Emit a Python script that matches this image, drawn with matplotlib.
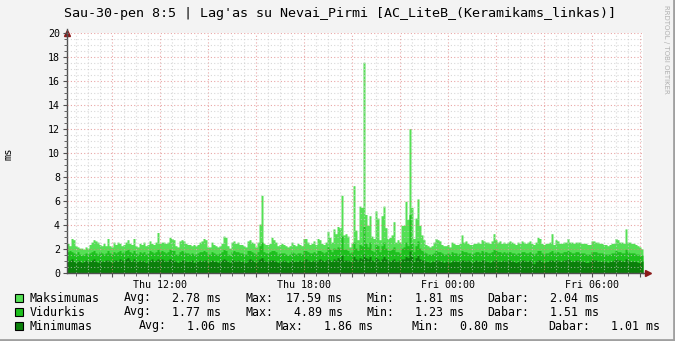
import numpy as np
import pandas as pd
import matplotlib
matplotlib.use('Agg')
import matplotlib.pyplot as plt
import matplotlib.dates as mdates
from matplotlib.ticker import MultipleLocator, FuncFormatter
from matplotlib.patches import Rectangle

# Laiko ašis: 5 min žingsnis, 24 val. (Thu 08:07:30 .. Fri 08:07:30)
start_time = '2015-01-29 08:07:30'
n_samples = 288

# Maksimumas (ms), po 24 reikšmes (2 val.) eilutėje
max_ms = [
    2.5, 2.3, 2.9, 2.8, 2.3, 2.2, 2.1, 2.1, 2.0, 2.2, 2.1, 2.4, 2.6, 2.8, 2.7, 2.6, 2.4, 2.3, 2.5, 2.3, 2.9, 2.3, 2.2, 2.6,
    2.4, 2.6, 2.5, 2.3, 2.4, 2.6, 2.8, 2.5, 2.4, 2.9, 2.3, 2.2, 2.5, 2.4, 2.6, 2.3, 2.4, 2.7, 2.5, 2.4, 2.6, 3.4, 2.5, 2.6,
    2.6, 2.5, 2.6, 3.0, 2.9, 2.8, 2.3, 2.2, 2.7, 2.8, 2.7, 2.5, 2.4, 2.4, 2.3, 2.4, 2.3, 2.4, 2.6, 2.7, 2.9, 2.8, 2.2, 2.2,
    2.6, 2.4, 2.3, 2.2, 2.3, 2.5, 3.1, 3.0, 2.3, 2.1, 2.6, 2.7, 2.5, 2.6, 2.4, 2.4, 2.3, 2.2, 2.7, 2.8, 2.6, 2.5, 2.2, 2.6,
    4.1, 6.5, 2.5, 2.4, 2.4, 2.5, 3.0, 2.8, 2.6, 2.3, 2.4, 2.5, 2.4, 2.3, 2.2, 2.3, 2.6, 2.4, 2.3, 2.5, 2.4, 2.3, 2.9, 2.9,
    2.6, 2.4, 2.5, 2.7, 2.4, 2.9, 2.8, 2.5, 2.4, 2.6, 3.5, 3.0, 2.6, 3.7, 3.3, 3.9, 3.8, 6.5, 3.2, 3.3, 3.1, 2.2, 2.5, 7.3,
    3.6, 2.8, 5.6, 5.5, 17.59, 4.9, 4.0, 4.8, 3.1, 2.9, 5.2, 4.6, 2.8, 4.8, 5.6, 3.8, 2.9, 3.0, 3.2, 4.3, 2.6, 2.8, 2.6, 4.0,
    4.0, 6.0, 4.5, 12.05, 5.5, 2.9, 4.6, 6.2, 4.0, 3.2, 2.8, 2.4, 2.3, 2.2, 2.3, 2.6, 2.9, 2.8, 2.7, 2.4, 2.3, 2.3, 2.4, 2.2,
    2.6, 2.5, 2.4, 2.4, 2.5, 3.2, 2.6, 2.7, 2.5, 2.4, 2.4, 2.5, 2.5, 2.6, 2.5, 2.8, 2.7, 2.6, 2.6, 2.5, 2.7, 3.3, 2.8, 2.6,
    2.7, 2.5, 2.6, 2.5, 2.6, 2.7, 2.6, 2.5, 2.4, 2.6, 2.5, 2.7, 2.6, 2.5, 2.6, 2.7, 2.5, 2.4, 2.6, 3.0, 2.9, 2.5, 2.4, 2.5,
    2.5, 2.6, 3.3, 2.4, 2.8, 2.7, 2.5, 2.5, 2.6, 2.6, 2.9, 2.6, 2.6, 2.5, 2.6, 2.6, 2.6, 2.5, 2.5, 2.5, 2.4, 2.4, 2.7, 2.7,
    2.6, 2.6, 2.5, 2.5, 2.4, 2.4, 2.3, 2.4, 2.5, 2.5, 2.9, 2.8, 2.6, 2.6, 2.5, 3.7, 2.6, 2.6, 2.5, 2.5, 2.4, 2.3, 2.2, 2.04,
]

# Vidurkis (ms)
avg_ms = [
    1.8, 1.9, 1.8, 1.7, 1.6, 1.8, 1.6, 1.5, 1.6, 1.7, 1.6, 1.7, 1.8, 1.9, 1.7, 1.6, 1.8, 1.7, 1.6, 1.7, 1.9, 1.7, 1.6, 1.8,
    1.7, 1.8, 1.9, 1.7, 1.8, 1.9, 2.0, 1.8, 1.7, 1.9, 1.7, 1.6, 1.8, 1.7, 1.8, 1.6, 1.7, 1.9, 1.8, 1.7, 1.8, 2.0, 1.8, 1.9,
    1.8, 1.7, 1.8, 2.0, 1.9, 1.9, 1.6, 1.6, 1.8, 1.9, 1.8, 1.7, 1.7, 1.6, 1.7, 1.6, 1.6, 1.7, 1.8, 1.8, 1.9, 1.8, 1.6, 1.6,
    1.8, 1.7, 1.6, 1.6, 1.7, 1.8, 2.0, 1.9, 1.6, 1.5, 1.8, 1.9, 1.8, 1.8, 1.7, 1.7, 1.6, 1.6, 1.9, 1.9, 1.8, 1.7, 1.6, 1.8,
    2.3, 2.6, 1.8, 1.7, 1.7, 1.8, 1.9, 1.9, 1.8, 1.6, 1.7, 1.7, 1.7, 1.6, 1.5, 1.6, 1.8, 1.7, 1.6, 1.7, 1.7, 1.6, 1.9, 1.9,
    1.8, 1.7, 1.7, 1.8, 1.7, 1.9, 1.9, 1.8, 1.7, 1.8, 2.2, 2.0, 1.8, 2.1, 2.0, 2.2, 2.1, 3.1, 2.0, 2.0, 1.9, 1.7, 1.8, 2.6,
    2.1, 1.9, 2.4, 2.3, 3.9, 2.5, 2.2, 2.6, 1.9, 1.8, 2.4, 2.3, 1.8, 2.3, 2.6, 2.1, 1.9, 1.9, 2.0, 2.2, 1.8, 1.8, 1.7, 2.1,
    2.2, 2.6, 2.3, 4.89, 2.5, 1.8, 2.3, 2.7, 2.1, 1.9, 1.8, 1.7, 1.6, 1.6, 1.6, 1.7, 1.9, 1.8, 1.8, 1.7, 1.6, 1.6, 1.7, 1.6,
    1.8, 1.7, 1.7, 1.6, 1.7, 1.9, 1.8, 1.8, 1.7, 1.7, 1.6, 1.7, 1.8, 1.8, 1.7, 1.9, 1.8, 1.8, 1.7, 1.7, 1.8, 2.0, 1.9, 1.8,
    1.8, 1.7, 1.8, 1.7, 1.8, 1.8, 1.7, 1.7, 1.6, 1.7, 1.7, 1.8, 1.8, 1.7, 1.7, 1.8, 1.7, 1.6, 1.7, 1.9, 1.9, 1.7, 1.6, 1.7,
    1.7, 1.8, 1.9, 1.7, 1.8, 1.8, 1.7, 1.7, 1.8, 1.8, 1.9, 1.8, 1.7, 1.7, 1.8, 1.8, 1.7, 1.7, 1.7, 1.6, 1.6, 1.6, 1.8, 1.8,
    1.8, 1.7, 1.7, 1.7, 1.6, 1.6, 1.6, 1.6, 1.7, 1.7, 1.9, 1.8, 1.8, 1.7, 1.7, 2.0, 1.8, 1.7, 1.7, 1.7, 1.6, 1.6, 1.5, 1.51,
]

# Minimumas (ms)
min_ms = [
    1.0, 1.1, 1.2, 1.0, 0.9, 1.1, 1.0, 0.9, 1.0, 1.1, 1.0, 1.0, 1.1, 1.2, 1.0, 0.9, 1.1, 1.0, 1.0, 1.1, 1.1, 1.0, 0.9, 1.1,
    1.1, 1.0, 1.2, 1.1, 1.0, 1.2, 1.3, 1.1, 1.0, 1.2, 1.0, 1.0, 1.1, 1.0, 1.1, 0.9, 1.0, 1.1, 1.2, 1.0, 1.1, 1.2, 1.1, 1.2,
    1.1, 1.0, 1.1, 1.2, 1.1, 1.1, 1.0, 0.9, 1.0, 1.1, 1.1, 1.0, 1.0, 1.0, 1.1, 0.9, 1.0, 1.0, 1.1, 1.0, 1.1, 1.1, 0.9, 1.0,
    1.1, 1.0, 1.0, 0.9, 1.0, 1.1, 1.2, 1.1, 1.0, 0.9, 1.1, 1.1, 1.0, 1.1, 1.0, 1.0, 1.0, 0.9, 1.1, 1.2, 1.1, 1.0, 0.9, 1.1,
    1.2, 1.3, 1.1, 1.0, 1.0, 1.1, 1.1, 1.1, 1.0, 0.9, 1.0, 1.0, 1.1, 1.0, 0.9, 1.0, 1.1, 1.0, 1.0, 1.0, 1.1, 1.0, 1.1, 1.2,
    1.1, 1.0, 1.0, 1.1, 1.0, 1.1, 1.2, 1.1, 1.0, 1.1, 1.2, 1.1, 1.0, 1.2, 1.1, 1.3, 1.2, 1.5, 1.1, 1.1, 1.1, 1.0, 1.0, 1.4,
    1.2, 1.1, 1.3, 1.2, 1.6, 1.3, 1.2, 1.4, 1.1, 1.0, 1.3, 1.2, 1.0, 1.2, 1.4, 1.2, 1.1, 1.0, 1.1, 1.2, 1.0, 1.1, 1.0, 1.2,
    1.2, 1.4, 1.3, 1.86, 1.4, 1.0, 1.3, 1.5, 1.2, 1.1, 1.1, 1.0, 1.0, 0.9, 1.0, 1.0, 1.1, 1.1, 1.0, 1.0, 0.9, 1.0, 1.0, 0.9,
    1.0, 1.1, 1.0, 1.0, 1.0, 1.1, 1.1, 1.0, 1.1, 1.0, 0.9, 1.0, 1.1, 1.0, 1.0, 1.1, 1.1, 1.0, 1.0, 0.9, 1.0, 1.1, 1.1, 1.0,
    1.0, 1.0, 1.1, 1.0, 1.1, 1.1, 1.0, 1.0, 0.9, 1.0, 1.0, 1.1, 1.1, 1.0, 1.0, 1.1, 1.0, 0.8, 1.0, 1.1, 1.1, 1.0, 0.9, 1.0,
    1.0, 1.1, 1.1, 1.0, 1.1, 1.1, 1.0, 1.0, 1.1, 1.1, 1.2, 1.1, 1.0, 1.0, 1.1, 1.1, 1.0, 1.0, 1.0, 0.9, 0.9, 1.0, 1.1, 1.1,
    1.1, 1.0, 1.0, 1.0, 1.0, 1.0, 0.9, 1.0, 1.0, 1.1, 1.2, 1.1, 1.1, 1.0, 1.0, 1.2, 1.1, 1.0, 1.0, 1.0, 1.0, 0.9, 0.9, 1.01,
]

# Legendos tekstai (kaip paveiksle)
series_names = ['Maksimumas', 'Vidurkis', 'Minimumas']
series_colors = ['#55E055', '#1EC01E', '#0B800B']
stat_avg = ['2.78 ms', '1.77 ms', '1.06 ms']
stat_max = ['17.59 ms', '4.89 ms', '1.86 ms']
stat_min = ['1.81 ms', '1.23 ms', '0.80 ms']
stat_now = ['2.04 ms', '1.51 ms', '1.01 ms']

title = "Sau-30-pen 8:5 | Lag'as su Nevai_Pirmi [AC_LiteB_(Keramikams_linkas)]"

W, H = 675, 341
MONO = 'DejaVu Sans Mono'


def fpos(x, y):
    """Pikselių koordinatės -> figūros dalys"""
    return x / W, 1 - y / H


times = pd.date_range(start_time, periods=n_samples, freq='5min')
t_edges = times.append(pd.DatetimeIndex([times[-1] + pd.Timedelta(minutes=5)]))

fig = plt.figure(figsize=(W / 100, H / 100), dpi=100, facecolor='#F3F3F3')
ax = fig.add_axes([67 / W, (H - 273.3) / H, 576 / W, 240 / H])
ax.set_facecolor('white')

# RRD stiliaus sritys: max, ant jo avg, ant jo min
for vals, col in zip([max_ms, avg_ms, min_ms], series_colors):
    ax.fill_between(t_edges, 0, list(vals) + [vals[-1]], step='post',
                    color=col, linewidth=0, zorder=1)

ax.set_xlim(t_edges[0], t_edges[-1])
ax.set_ylim(0, 20)

# Tinklelis
ax.xaxis.set_major_locator(mdates.HourLocator(interval=2))
ax.xaxis.set_minor_locator(mdates.MinuteLocator(byminute=[0, 30]))
ax.xaxis.set_major_formatter(FuncFormatter(
    lambda v, p: mdates.num2date(v).strftime('%a %H:%M') if mdates.num2date(v).hour % 6 == 0 else ''))
ax.yaxis.set_major_locator(MultipleLocator(2))
ax.yaxis.set_minor_locator(MultipleLocator(0.5))
ax.grid(which='minor', color='#C8C8C8', linestyle=(0, (1, 2)), linewidth=0.8, alpha=0.7)
ax.grid(which='major', color='#E08080', linestyle=(0, (1, 2)), linewidth=0.8, alpha=0.7)
ax.set_axisbelow(False)

for s in ['top', 'right']:
    ax.spines[s].set_visible(False)
for s in ['left', 'bottom']:
    ax.spines[s].set_color('#505050')
    ax.spines[s].set_linewidth(1)
ax.tick_params(which='both', colors='#505050', labelcolor='black', labelsize=7.2)
ax.tick_params(which='major', length=3, width=0.8)
ax.tick_params(which='minor', length=2, width=0.6)
ax.tick_params(axis='x', pad=2)
ax.tick_params(axis='y', pad=2)
for lab in ax.get_xticklabels() + ax.get_yticklabels():
    lab.set_family(MONO)

# Rodyklės ašių galuose
ax.plot([0], [1.0], marker='^', color='#8B1A1A', markersize=4, transform=ax.transAxes, clip_on=False)
ax.plot([0, 0], [0.99, 1.02], color='#505050', lw=1, transform=ax.transAxes, clip_on=False)
ax.plot([1.0, 1.008], [0, 0], color='#505050', lw=1, transform=ax.transAxes, clip_on=False)
ax.plot([1.008], [0], marker='>', color='#8B1A1A', markersize=4, transform=ax.transAxes, clip_on=False)

ax.set_ylabel('ms', family=MONO, fontsize=7.5)
ax.yaxis.set_label_coords(-53 / 576, 0.5)

fig.text(*fpos(340, 13), title, family=MONO, fontsize=9.6, ha='center', va='center')
fig.text(*fpos(666, 5), 'RRDTOOL / TOBI OETIKER', family='DejaVu Sans', fontsize=5,
         color='#B0B0B0', rotation=270, ha='center', va='top')

# Legenda
rows_y = [298, 312, 326]
cols_x = [
    [30, 124, 172, 245, 286, 366, 415, 487, 550],
    [30, 124, 172, 245, 294, 366, 415, 487, 550],
    [30, 139, 187, 275, 324, 412, 460, 548, 611],
]
for k in range(3):
    y = rows_y[k]
    fx, fy = fpos(15, y + 4)
    fig.add_artist(Rectangle((fx, fy), 8 / W, 8 / H, facecolor=series_colors[k],
                             edgecolor='black', linewidth=0.8, transform=fig.transFigure))
    pieces = [series_names[k], 'Avg:', stat_avg[k], 'Max:', stat_max[k],
              'Min:', stat_min[k], 'Dabar:', stat_now[k]]
    for txt, x in zip(pieces, cols_x[k]):
        fig.text(*fpos(x, y), txt, family=MONO, fontsize=8.4, ha='left', va='center')

# Rėmelis
fig.add_artist(plt.Line2D([0, 1], [1 - 339.5 / H] * 2, color='#A0A0A0', lw=2, transform=fig.transFigure))
fig.add_artist(plt.Line2D([1 - 1.5 / W] * 2, [0, 1], color='#A0A0A0', lw=2, transform=fig.transFigure))

fig.savefig('out.png', dpi=100, facecolor=fig.get_facecolor())
